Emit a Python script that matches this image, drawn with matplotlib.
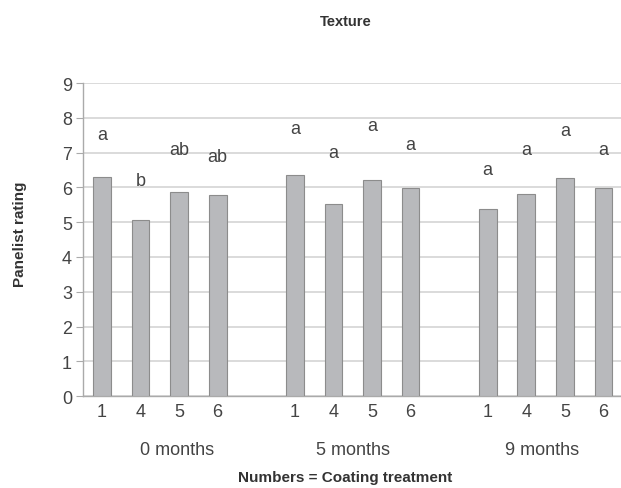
import matplotlib
matplotlib.use("Agg")
import matplotlib.pyplot as plt
import matplotlib.transforms as mtransforms

plt.rcParams['font.family'] = ['Liberation Sans', 'DejaVu Sans']

groups = ["0 months", "5 months", "9 months"]
treatments = ["1", "4", "5", "6"]
ratings_0m = [6.31, 5.05, 5.87, 5.78]
ratings_5m = [6.36, 5.52, 6.21, 5.97]
ratings_9m = [5.38, 5.81, 6.26, 5.97]
letters_0m = ["a", "b", "ab", "ab"]
letters_5m = ["a", "a", "a", "a"]
letters_9m = ["a", "a", "a", "a"]
letter_y_0m = [7.53, 6.19, 7.10, 6.90]
letter_y_5m = [7.70, 7.00, 7.79, 7.24]
letter_y_9m = [6.52, 7.10, 7.64, 7.10]

all_ratings = [ratings_0m, ratings_5m, ratings_9m]
all_letters = [letters_0m, letters_5m, letters_9m]
all_letter_y = [letter_y_0m, letter_y_5m, letter_y_9m]

fig = plt.figure(figsize=(6.21, 4.89), dpi=100)
ax = fig.add_axes([0.1337, 0.188, 0.866, 0.640])

positions = []
labels = []
group_centers = []
for gi, (vals, lets, ly) in enumerate(zip(all_ratings, all_letters, all_letter_y)):
    xs = [gi * 5 + i for i in range(len(vals))]
    positions += xs
    labels += treatments
    ax.bar(xs, vals, width=0.46, color='#b8b9bc', edgecolor='#8c8c8c', linewidth=0.8, zorder=3)
    for x, l, y in zip(xs, lets, ly):
        ax.text(x, y, l, ha='center', va='center', fontsize=13, color='#444444', zorder=4)
    group_centers.append(sum(xs) / len(xs))

ax.set_xlim(-0.49, 13.45)
ax.set_ylim(0, 9)
ax.set_yticks(range(0, 10))
ax.yaxis.grid(True, color='#d4d4d4', linewidth=1.2, zorder=0)
ax.set_axisbelow(True)
ax.set_xticks(positions)
ax.set_xticklabels(labels, fontsize=13, color='#444444')
ax.tick_params(axis='x', length=0, pad=5)
ax.tick_params(axis='y', length=5, color='#aaaaaa', labelsize=13, labelcolor='#444444', pad=3)
for s in ['top', 'right']:
    ax.spines[s].set_visible(False)
ax.spines['left'].set_color('#aaaaaa')
ax.spines['bottom'].set_color('#aaaaaa')
ax.spines['left'].set_linewidth(1.0)
ax.spines['bottom'].set_linewidth(1.0)

trans = mtransforms.blended_transform_factory(ax.transData, fig.transFigure)
group_label_offsets = [0.45, 0.0, -0.1]
for c, g, off in zip(group_centers, groups, group_label_offsets):
    ax.text(c + off, 1 - 451 / 489, g, transform=trans, ha='center', va='center',
            fontsize=13, color='#444444')

fig.text(0.556, 1 - 478 / 489, "Numbers = Coating treatment", ha='center', va='center',
         fontsize=11, fontweight='bold', color='#333333')
fig.text(0.556, 1 - 22 / 489, "Texture", ha='center', va='center',
         fontsize=10.5, fontweight='bold', color='#333333')
fig.text(0.032, 0.52, "Panelist rating", ha='center', va='center', rotation=90,
         fontsize=11, fontweight='bold', color='#333333')

fig.savefig("out.png", dpi=100)
